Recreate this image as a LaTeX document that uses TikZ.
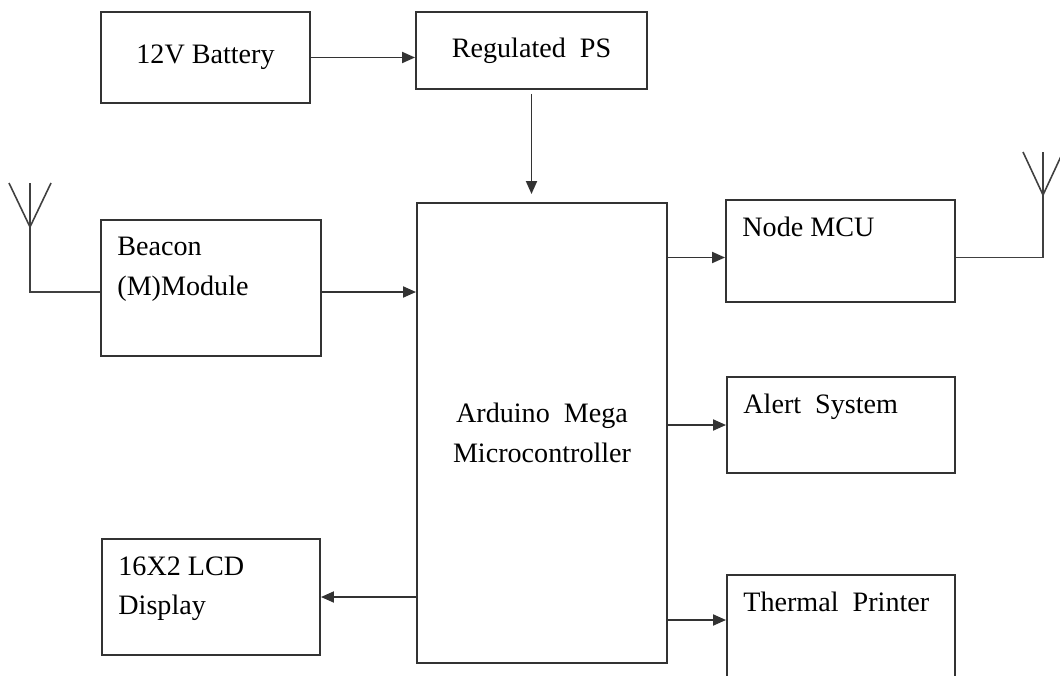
\documentclass[tikz,border=0pt]{standalone}
\usepackage{fontspec}
\setmainfont{Liberation Serif}
\usetikzlibrary{arrows.meta, positioning}

\tikzset{
  block/.style={draw=black!80, line width=1.1pt, inner sep=0pt, align=center,
    font=\fontsize{16}{22.7}\selectfont},
  lbl/.style={inner sep=0pt, anchor=north west, align=left,
    font=\fontsize{16}{22.7}\selectfont},
  link/.style={->, line width=1.1pt, draw=black!80},
  wire/.style={line width=0.9pt, draw=black!75}
}

\begin{document}
\begin{tikzpicture}[>={Triangle[length=2.6mm,width=2.2mm]}]
			\useasboundingbox (0,0) rectangle (21.2,13.5);

			% Blocks
			\node[block, minimum width=4.18cm, minimum height=1.82cm] (battery) at (4.11,12.35) {12V Battery};
			\node[block, minimum width=4.62cm, minimum height=1.54cm] (regps) at (10.63,12.49) {Regulated\ \ PS};
			\node[block, minimum width=4.4cm, minimum height=2.72cm] (beacon) at (4.22,7.74) {};
			\node[block, minimum width=5cm, minimum height=9.2cm] (arduino) at (10.84,4.84) {Arduino\ \ Mega\\Microcontroller};
			\node[block, minimum width=4.58cm, minimum height=2.04cm] (nodemcu) at (16.81,8.48) {};
			\node[block, minimum width=4.56cm, minimum height=1.92cm] (alert) at (16.82,5.0) {};
			\node[block, minimum width=4.56cm, minimum height=2.3cm] (printer) at (16.82,0.85) {};
			\node[block, minimum width=4.36cm, minimum height=2.32cm] (lcd) at (4.22,1.56) {};

			% Labels
			\node[lbl, below right=0.36cm and 0.34cm of beacon.north west] (beacontxt) {Beacon\\(M)Module};
			\node[lbl, below right=0.36cm and 0.34cm of nodemcu.north west] (nodemcutxt) {Node MCU};
			\node[lbl, below right=0.36cm and 0.34cm of alert.north west] (alerttxt) {Alert\ \ System};
			\node[lbl, below right=0.36cm and 0.34cm of printer.north west] (printertxt) {Thermal\ \ Printer};
			\node[lbl, below right=0.36cm and 0.34cm of lcd.north west] (lcdtxt) {16X2 LCD\\Display};

			% Arrows
			\draw[link] (battery.east) -- (battery.east -| regps.west);
			\draw[link, shorten <=0.08cm, shorten >=0.16cm] (regps.south) -- (regps.south |- arduino.north);
			\coordinate (bcn) at ([yshift=-0.08cm]beacon.east);
			\draw[link] (bcn) -- (bcn -| arduino.west);
			\coordinate (mcu) at ([yshift=-0.13cm]nodemcu.west);
			\draw[link] (arduino.east |- mcu) -- (mcu);
			\draw[link] (arduino.east |- alert.west) -- (alert.west);
			\coordinate (prin) at (printer.west |- 0,1.1);
			\draw[link] (arduino.east |- prin) -- (prin);
			\draw[link] (arduino.west |- lcd.east) -- (lcd.east);

			% Antennas
			\coordinate (antL) at (0.6,8.96);
			\draw[wire] (bcn -| beacon.west) -| (antL) -- ++(0,0.88);
			\draw[wire] (antL) -- ++(-0.42,0.88) (antL) -- ++(0.42,0.88);
			\coordinate (antR) at (20.86,9.6);
			\draw[wire] (mcu -| nodemcu.east) -| (antR) -- ++(0,0.86);
			\draw[wire] (antR) -- ++(-0.4,0.86) (antR) -- ++(0.4,0.86);
		\end{tikzpicture}
\end{document}
